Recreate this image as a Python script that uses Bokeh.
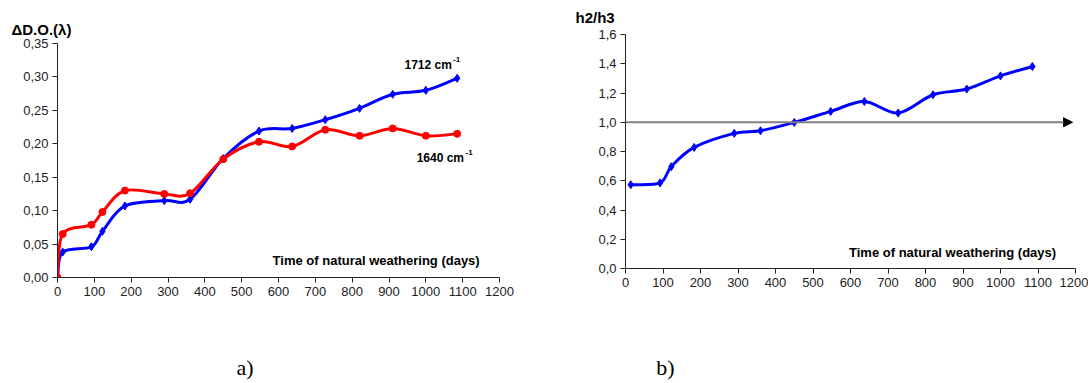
import numpy as np
from bokeh.plotting import figure
from bokeh.layouts import row, column
from bokeh.models import Range1d, FixedTicker, CustomJSTickFormatter, Label, Arrow, NormalHead, Title
from bokeh.embed import file_html
from bokeh.resources import INLINE

# ---------------- data ----------------
days_a = [0, 14, 92, 122, 183, 290, 360, 450, 547, 637, 727, 820, 910, 1000, 1085]
od_1712 = [0.0, 0.038, 0.046, 0.069, 0.107, 0.115, 0.117, 0.178, 0.219, 0.223, 0.236, 0.253, 0.274, 0.280, 0.298]
od_1640 = [0.0, 0.065, 0.079, 0.098, 0.130, 0.125, 0.126, 0.177, 0.203, 0.196, 0.221, 0.212, 0.223, 0.212, 0.215]

days_b = [14, 92, 122, 183, 290, 360, 450, 547, 637, 727, 820, 910, 1000, 1085]
h2_h3 = [0.573, 0.585, 0.696, 0.828, 0.924, 0.942, 0.999, 1.074, 1.142, 1.063, 1.188, 1.227, 1.317, 1.381]

x_ticks = [0, 100, 200, 300, 400, 500, 600, 700, 800, 900, 1000, 1100, 1200]
y_ticks_a = [0.0, 0.05, 0.10, 0.15, 0.20, 0.25, 0.30, 0.35]
y_ticks_b = [0.0, 0.2, 0.4, 0.6, 0.8, 1.0, 1.2, 1.4, 1.6]

x_title = "Time of natural weathering  (days)"

FONT = "Liberation Sans"


def smooth(p, xs, ys, color, width):
    """Excel-like smoothed line: Catmull-Rom segments drawn as cubic beziers."""
    x = np.asarray(xs, float)
    y = np.asarray(ys, float)
    n = len(x)
    xp = np.concatenate([[x[0]], x, [x[-1]]])
    yp = np.concatenate([[y[0]], y, [y[-1]]])
    i = np.arange(n - 1)
    x0, y0 = x[:-1], y[:-1]
    x1, y1 = x[1:], y[1:]
    cx0 = x0 + (xp[i + 2] - xp[i]) / 6.0
    cy0 = y0 + (yp[i + 2] - yp[i]) / 6.0
    cx1 = x1 - (xp[i + 3] - xp[i + 1]) / 6.0
    cy1 = y1 - (yp[i + 3] - yp[i + 1]) / 6.0
    p.bezier(x0=x0, y0=y0, x1=x1, y1=y1, cx0=cx0, cy0=cy0, cx1=cx1, cy1=cy1,
             line_color=color, line_width=width)


def style(p, yfmt):
    p.outline_line_color = None
    p.xgrid.visible = False
    p.ygrid.visible = False
    p.background_fill_color = "white"
    p.border_fill_color = "white"
    for ax in (p.xaxis, p.yaxis):
        ax.axis_line_color = "#222222"
        ax.axis_line_width = 1
        ax.major_tick_line_color = "#222222"
        ax.major_tick_out = 5
        ax.major_tick_in = 0
        ax.minor_tick_line_color = None
        ax.major_label_text_font = FONT
        ax.major_label_text_font_size = "13px"
        ax.major_label_text_color = "#222222"
        ax.major_label_standoff = 4
    p.xaxis.ticker = FixedTicker(ticks=x_ticks)
    p.yaxis.formatter = CustomJSTickFormatter(code=yfmt)


def label(p, x, y, text, size, bold=True, align="left", font=FONT):
    p.add_layout(Label(x=x, y=y, text=text, text_font=font, text_font_size=size,
                       text_font_style="bold" if bold else "normal", text_align=align,
                       text_baseline="alphabetic", text_color="black"))


def side_title(p, text, place, offset, size, bold=True, font=FONT, standoff=10):
    p.add_layout(Title(text=text, align="left", offset=offset, text_font=font,
                       text_font_size=size, text_font_style="bold" if bold else "normal",
                       text_color="black", standoff=standoff), place)


# ---------------- panel a ----------------
pa = figure(width=544, height=350, output_backend="svg", toolbar_location=None,
            x_range=Range1d(0, 1200), y_range=Range1d(0, 0.35),
            min_border_left=57, min_border_right=45, min_border_top=43, min_border_bottom=73)
style(pa, "return tick.toFixed(2).replace('.', ',');")
pa.yaxis.ticker = FixedTicker(ticks=y_ticks_a)

smooth(pa, days_a, od_1712, "#0000FF", 3)
pa.scatter(days_a, od_1712, marker="diamond", size=8, color="#0000FF")
smooth(pa, days_a, od_1640, "#FF0000", 3)
pa.scatter(days_a, od_1640, marker="circle", size=7, color="#FF0000")

side_title(pa, "ΔD.O.(λ)", "above", -46, "15px", standoff=12)
label(pa, 870, 0.0254, x_title, "13px", align="center")
label(pa, 942, 0.3185, "1712 cm", "12px")
label(pa, 1074, 0.3255, "-1", "8px")
label(pa, 975, 0.1785, "1640 cm", "12px")
label(pa, 1108, 0.1865, "-1", "8px")

# ---------------- panel b ----------------
pb = figure(width=544, height=350, output_backend="svg", toolbar_location=None,
            x_range=Range1d(0, 1200), y_range=Range1d(0, 1.6),
            min_border_left=81, min_border_right=13, min_border_top=43, min_border_bottom=73)
pb.styles = {"transform": "translateY(-9px)"}
style(pb, "return tick.toFixed(1).replace('.', ',');")
pb.yaxis.ticker = FixedTicker(ticks=y_ticks_b)

pb.add_layout(Arrow(end=NormalHead(size=9, fill_color="black", line_color="black"),
                    x_start=0, y_start=1.0, x_end=1192, y_end=1.0,
                    line_color="#808080", line_width=2))
smooth(pb, days_b, h2_h3, "#0000FF", 3)
pb.scatter(days_b, h2_h3, marker="diamond", size=8, color="#0000FF")

side_title(pb, "h2/h3", "above", -50, "15px", standoff=17)
label(pb, 877, 0.106, x_title, "13px", align="center")

# ---------------- panel captions ----------------
pc = figure(width=1088, height=32, output_backend="svg", toolbar_location=None,
            x_range=Range1d(0, 1088), y_range=Range1d(0, 32),
            min_border=0)
pc.axis.visible = False
pc.grid.visible = False
pc.outline_line_color = None
pc.border_fill_color = "white"
label(pc, 244.5, 15, "a)", "22px", bold=False, align="center", font="Liberation Serif")
label(pc, 665, 15, "b)", "22px", bold=False, align="center", font="Liberation Serif")

layout = column(row(pa, pb), pc)
open("out.html", "w").write(file_html(layout, INLINE))
